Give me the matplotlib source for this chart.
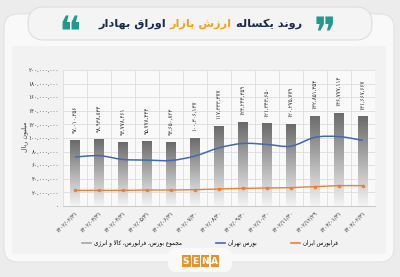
import numpy as np
import matplotlib
matplotlib.use("Agg")
import matplotlib.pyplot as plt
from matplotlib.patches import FancyBboxPatch, Rectangle
from matplotlib.path import Path
from matplotlib.patches import PathPatch
from matplotlib.lines import Line2D

plt.rcParams['font.family'] = ['DejaVu Sans']

# ---- data -------------------------------------------------------------
dates = ['۱۴۰۲/۰۲/۳۱', '۱۴۰۲/۰۳/۳۱', '۱۴۰۲/۰۴/۳۱', '۱۴۰۲/۰۵/۳۱', '۱۴۰۲/۰۶/۳۱',
         '۱۴۰۲/۰۷/۳۰', '۱۴۰۲/۰۸/۳۰', '۱۴۰۲/۰۹/۳۰', '۱۴۰۲/۱۰/۳۰', '۱۴۰۲/۱۱/۳۰',
         '۱۴۰۲/۱۲/۲۹', '۱۴۰۳/۰۱/۳۱', '۱۴۰۳/۰۲/۳۱']
total = [97010356, 98938834, 93778461, 95778444, 93650823, 100306137, 117333377,
         123244359, 121343650, 120275779, 132851354, 136777114, 131667667]
tehran = [72.0e6, 74.0e6, 68.5e6, 67.5e6, 67.0e6, 73.5e6, 85.5e6,
          92.0e6, 90.5e6, 88.0e6, 101.0e6, 102.0e6, 96.5e6]
farabourse = [23.0e6, 23.0e6, 23.0e6, 23.5e6, 23.5e6, 24.0e6, 25.0e6,
              26.0e6, 26.5e6, 27.0e6, 28.5e6, 30.0e6, 30.0e6]
yticks = np.arange(0, 200e6 + 1, 20e6)

title_parts = ['روند یکساله ', 'ارزش بازار', ' اوراق بهادار']
ylabel = 'میلیون ریال'
legend_labels = ['مجموع بورس، فرابورس، کالا و انرژی', 'بورس تهران', 'فرابورس ایران']

# ---- minimal Persian shaping (presentation forms, visual order) ------
_F = {
    'ا': ('\uFE8D', '\uFE8E'), 'آ': ('\uFE81', '\uFE82'),
    'د': ('\uFEA9', '\uFEAA'), 'ذ': ('\uFEAB', '\uFEAC'),
    'ر': ('\uFEAD', '\uFEAE'), 'ز': ('\uFEAF', '\uFEB0'),
    'ژ': ('\uFB8A', '\uFB8B'), 'و': ('\uFEED', '\uFEEE'),
    'ب': ('\uFE8F', '\uFE90', '\uFE91', '\uFE92'),
    'پ': ('\uFB56', '\uFB57', '\uFB58', '\uFB59'),
    'ت': ('\uFE95', '\uFE96', '\uFE97', '\uFE98'),
    'ث': ('\uFE99', '\uFE9A', '\uFE9B', '\uFE9C'),
    'ج': ('\uFE9D', '\uFE9E', '\uFE9F', '\uFEA0'),
    'چ': ('\uFB7A', '\uFB7B', '\uFB7C', '\uFB7D'),
    'ح': ('\uFEA1', '\uFEA2', '\uFEA3', '\uFEA4'),
    'خ': ('\uFEA5', '\uFEA6', '\uFEA7', '\uFEA8'),
    'س': ('\uFEB1', '\uFEB2', '\uFEB3', '\uFEB4'),
    'ش': ('\uFEB5', '\uFEB6', '\uFEB7', '\uFEB8'),
    'ص': ('\uFEB9', '\uFEBA', '\uFEBB', '\uFEBC'),
    'ض': ('\uFEBD', '\uFEBE', '\uFEBF', '\uFEC0'),
    'ط': ('\uFEC1', '\uFEC2', '\uFEC3', '\uFEC4'),
    'ظ': ('\uFEC5', '\uFEC6', '\uFEC7', '\uFEC8'),
    'ع': ('\uFEC9', '\uFECA', '\uFECB', '\uFECC'),
    'غ': ('\uFECD', '\uFECE', '\uFECF', '\uFED0'),
    'ف': ('\uFED1', '\uFED2', '\uFED3', '\uFED4'),
    'ق': ('\uFED5', '\uFED6', '\uFED7', '\uFED8'),
    'ک': ('\uFB8E', '\uFB8F', '\uFB90', '\uFB91'),
    'گ': ('\uFB92', '\uFB93', '\uFB94', '\uFB95'),
    'ل': ('\uFEDD', '\uFEDE', '\uFEDF', '\uFEE0'),
    'م': ('\uFEE1', '\uFEE2', '\uFEE3', '\uFEE4'),
    'ن': ('\uFEE5', '\uFEE6', '\uFEE7', '\uFEE8'),
    'ه': ('\uFEE9', '\uFEEA', '\uFEEB', '\uFEEC'),
    'ی': ('\uFBFC', '\uFBFD', '\uFBFE', '\uFBFF'),
}


def fa(text):
    out = []
    i, n = 0, len(text)
    while i < n:
        c = text[i]
        if c not in _F:
            out.append(c)
            i += 1
            continue
        prev = text[i - 1] if i > 0 else None
        joins_prev = prev in _F and len(_F[prev]) == 4
        nxt = text[i + 1] if i + 1 < n else None
        if c == 'ل' and nxt == 'ا':
            out.append('\uFEFC' if joins_prev else '\uFEFB')
            i += 2
            continue
        f = _F[c]
        joins_next = len(f) == 4 and nxt in _F
        if joins_prev and joins_next:
            out.append(f[3])
        elif joins_prev:
            out.append(f[1])
        elif joins_next:
            out.append(f[2])
        else:
            out.append(f[0])
        i += 1
    return ''.join(reversed(out))


_DIG = str.maketrans('0123456789', '۰۱۲۳۴۵۶۷۸۹')


def fa_num(v):
    return f'{int(round(v)):,}'.translate(_DIG)


# ---- figure & background ---------------------------------------------
W, H = 400, 277
fig = plt.figure(figsize=(W / 100, H / 100), dpi=100, facecolor='#ececec')


def px(x, y):
    return x / W, 1 - y / H


def box(x0, y0, x1, y1, fc, ec='none', r=10, lw=0.8, z=-5):
    bx, by = px(x0, y1)
    p = FancyBboxPatch((bx, by), (x1 - x0) / W, (y1 - y0) / H,
                       boxstyle=f'round,pad=0,rounding_size={r / W}',
                       transform=fig.transFigure, fc=fc, ec=ec, lw=lw, zorder=z,
                       mutation_aspect=W / H)
    fig.patches.append(p)


box(4, 14, 394, 262, '#f9f9f9', '#e2e2e2', r=14, z=-6)
box(12, 46, 386, 254, '#f2f2f2', r=3, z=-5)
box(28, 7, 372, 40, '#f4f4f4', '#dedede', r=16, lw=0.8, z=-4)
box(168, 248, 232, 272, '#f9f9f9', r=8, z=-4)

# title, laid out right-to-left from its right edge
renderer = fig.canvas.get_renderer()
ty = 1 - 24 / H
xr = 302
for part, col in zip(title_parts, ['#1d2a4d', '#f3a21d', '#1d2a4d']):
    tt = fig.text(xr / W, ty, fa(part), color=col, fontsize=8.2,
                  fontweight='bold', ha='right', va='center')
    xr -= tt.get_window_extent(renderer).width
fig.text(325 / W, 1 - 35 / H, '\u275E', color='#1f9a8c', fontsize=30,
         ha='center', va='center')
fig.text(70 / W, 1 - 35 / H, '\u275D', color='#1f9a8c', fontsize=30,
         ha='center', va='center')

# ---- chart ------------------------------------------------------------
l, b = px(63, 206)
r_, t = px(375, 70)
ax = fig.add_axes([l, b, r_ - l, t - b])
ax.set_facecolor('#f9f9f9')
x = np.arange(len(dates))

bars = ax.bar(x, total, width=0.4, color='#8a8a8a', zorder=2)
grad = np.linspace(0, 1, 256).reshape(-1, 1)
cmap = matplotlib.colors.LinearSegmentedColormap.from_list('g', ['#f4f4f4', '#6a6a6a'])
for rect in bars:
    x0, w, h = rect.get_x(), rect.get_width(), rect.get_height()
    im = ax.imshow(grad, extent=[x0, x0 + w, 0, h], origin='lower', cmap=cmap,
                   aspect='auto', zorder=2.1)
    im.set_clip_path(rect)

for xi, v in zip(x, total):
    ax.annotate(fa_num(v), (xi, v), xytext=(0, 5), textcoords='offset points',
                rotation=90, ha='center', va='bottom', fontsize=4, color='#333333')

# smooth curve for Tehran exchange (Catmull-Rom as cubic Bezier segments)
ty_ = np.asarray(tehran)
verts = [(x[0], ty_[0])]
codes = [Path.MOVETO]
for i in range(len(x) - 1):
    p0 = (x[max(i - 1, 0)], ty_[max(i - 1, 0)])
    p1 = (x[i], ty_[i])
    p2 = (x[i + 1], ty_[i + 1])
    p3 = (x[min(i + 2, len(x) - 1)], ty_[min(i + 2, len(x) - 1)])
    c1 = (p1[0] + (p2[0] - p0[0]) / 6, p1[1] + (p2[1] - p0[1]) / 6)
    c2 = (p2[0] - (p3[0] - p1[0]) / 6, p2[1] - (p3[1] - p1[1]) / 6)
    verts += [c1, c2, p2]
    codes += [Path.CURVE4] * 3
ax.add_patch(PathPatch(Path(verts, codes), fc='none', ec='#4568ad', lw=1.1, zorder=3))

ax.plot(x, farabourse, color='#ef7f2f', lw=1.0, marker='o', ms=1.6, zorder=3)

ax.set_xlim(-0.5, len(dates) - 0.5)
ax.set_ylim(0, 200e6)
ax.set_yticks(yticks)
ax.set_yticklabels([fa_num(v) for v in yticks], fontsize=4, color='#333333')
ax.set_xticks(x)
ax.set_xticklabels(dates, rotation=45, ha='right', rotation_mode='anchor',
                   fontsize=4, color='#333333')
ax.set_xticks(np.arange(-0.5, len(dates), 1), minor=True)
ax.grid(True, axis='y', which='major', color='#dddddd', lw=0.6)
ax.grid(True, axis='x', which='minor', color='#dddddd', lw=0.6)
ax.tick_params(length=0, pad=3, which='both')
for s in ax.spines.values():
    s.set_visible(False)
ax.spines['bottom'].set_visible(True)
ax.spines['bottom'].set_color('#cccccc')
ax.set_axisbelow(True)
fig.text(25 / W, 1 - 137 / H, fa(ylabel), rotation=90, fontsize=4.5,
         color='#333333', ha='center', va='center')

# legend
handles = [Line2D([], [], color='#a6a6a6', lw=1.2),
           Line2D([], [], color='#4568ad', lw=1.2),
           Line2D([], [], color='#ef7f2f', lw=1.2)]
fig.legend(handles, [fa(s) for s in legend_labels], ncol=3, loc='center',
           bbox_to_anchor=(210 / W, 1 - 243 / H), frameon=False, fontsize=4.1,
           handlelength=1.6, handletextpad=0.5, columnspacing=6)

# SENA mark
for k, ch in enumerate('SENA'):
    cx = 186 + k * 9.5
    fig.patches.append(Rectangle(px(cx - 4, 267), 8.5 / W, 12 / H,
                                 transform=fig.transFigure, fc='#e8922e', ec='none', zorder=3))
    fig.text(cx / W, 1 - 261 / H, ch, color='white', fontsize=6.5,
             fontweight='bold', ha='center', va='center', zorder=4)

fig.savefig('out.png', dpi=100, facecolor=fig.get_facecolor())
